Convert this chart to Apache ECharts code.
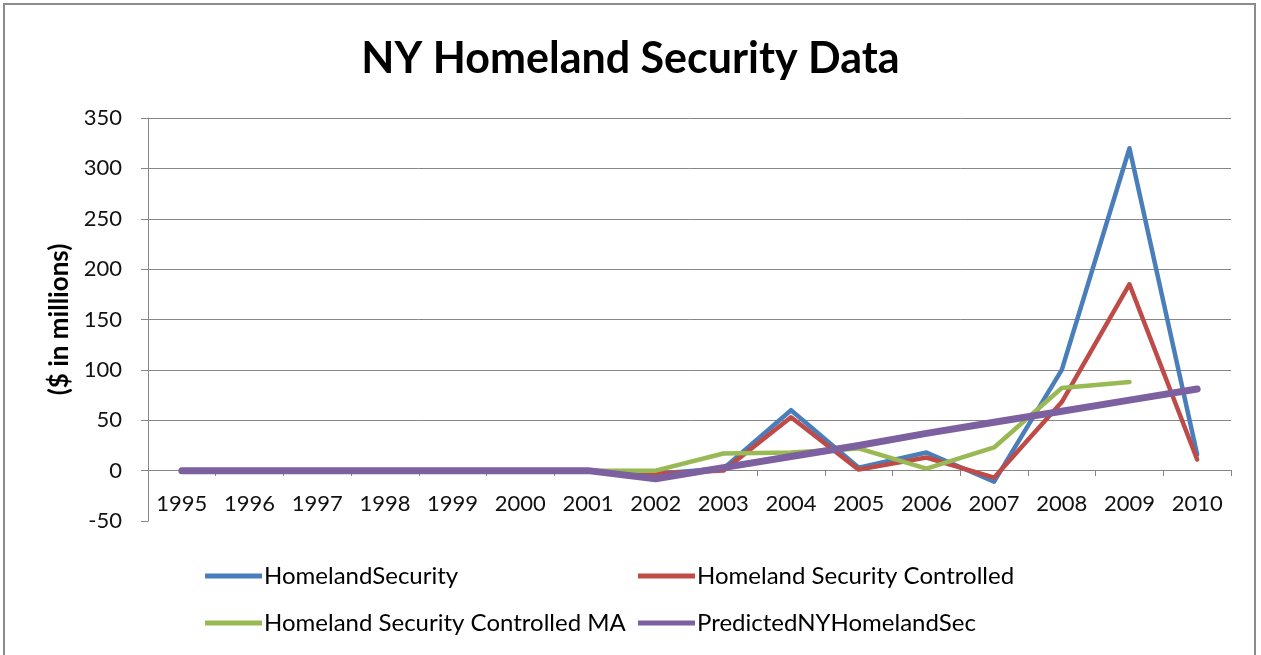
<!DOCTYPE html>
<html>
<head>
<meta charset="utf-8">
<script src="https://cdn.jsdelivr.net/npm/echarts@6/dist/echarts.min.js"></script>
<style>
html,body{margin:0;padding:0;background:#fff;}
#chart{width:1261px;height:655px;}
</style>
</head>
<body>
<div id="chart"></div>
<script>
const years = ['1995','1996','1997','1998','1999','2000','2001','2002','2003','2004','2005','2006','2007','2008','2009','2010'];
const homelandSecurity = [0,0,0,0,0,0,0,-3,2,60,3,18,-11,100,320,16];
const homelandControlled = [0,0,0,0,0,0,0,-3,0,53,1,13,-7,68,185,11];
const homelandControlledMA = [0,0,0,0,0,0,0,0,17,18,22,2,23,82,88,null];
const predicted = [0,0,0,0,0,0,0,-8,3,14,25,37,48,59,70,81];
const yTicks = {min:-50, max:350, interval:50};

const FONT = 'Lato, "Open Sans", sans-serif';
const chart = echarts.init(document.getElementById('chart'));
const seriesDefs = [
  {name:'HomelandSecurity', data:homelandSecurity, color:'#4A7EBB', width:4.5},
  {name:'Homeland Security Controlled', data:homelandControlled, color:'#BE4B48', width:4.5},
  {name:'Homeland Security Controlled MA', data:homelandControlledMA, color:'#98B954', width:4.5},
  {name:'PredictedNYHomelandSec', data:predicted, color:'#7D60A0', width:7}
];
const legendPos = [
  {left:200, top:559},
  {left:633, top:559},
  {left:200, top:606},
  {left:633, top:606}
];
chart.setOption({
  animation:false,
  backgroundColor:'#fff',
  title:{
    text:'NY Homeland Security Data',
    left:'center', top:33,
    textStyle:{fontFamily:FONT, fontSize:43, fontWeight:'bold', color:'#000'}
  },
  legend: seriesDefs.map((s,i)=>({
    data:[s.name],
    left:legendPos[i].left, top:legendPos[i].top,
    icon:'rect', itemWidth:57, itemHeight:5, itemGap:4,
    textStyle:{fontFamily:FONT, fontSize:24, color:'#000', padding:[0,0,0,-3]},
    selectedMode:false
  })),
  grid:{left:148, right:30, top:118, bottom:134, containLabel:false},
  xAxis:{
    type:'category', data:years, boundaryGap:true,
    position:'bottom', offset:-51,
    axisLine:{onZero:false, lineStyle:{color:'#868686', width:1}},
    axisTick:{show:true, inside:false, length:6, lineStyle:{color:'#868686'}},
    axisLabel:{fontFamily:FONT, fontSize:22, color:'#111', margin:23}
  },
  yAxis:{
    type:'value', min:yTicks.min, max:yTicks.max, interval:yTicks.interval,
    name:'($ in millions)', nameLocation:'middle', nameGap:74,
    nameTextStyle:{fontFamily:FONT, fontSize:26, fontWeight:'bold', color:'#000'},
    axisLine:{show:true, lineStyle:{color:'#868686'}},
    axisTick:{show:true, length:7, lineStyle:{color:'#868686'}},
    axisLabel:{fontFamily:FONT, fontSize:22, color:'#111', margin:26},
    splitLine:{show:true, showMinLine:false, lineStyle:{color:'#868686', width:1}}
  },
  graphic:[{
    type:'rect', shape:{x:4, y:4, width:1251, height:670},
    style:{fill:null, stroke:'#8c8c8c', lineWidth:2}, silent:true, z:-1
  }],
  series: seriesDefs.map(s=>({
    name:s.name, type:'line', data:s.data,
    symbol:'none', showSymbol:false, connectNulls:false,
    lineStyle:{color:s.color, width:s.width, cap:'round', join:'round'},
    itemStyle:{color:s.color}
  }))
});
</script>
</body>
</html>
